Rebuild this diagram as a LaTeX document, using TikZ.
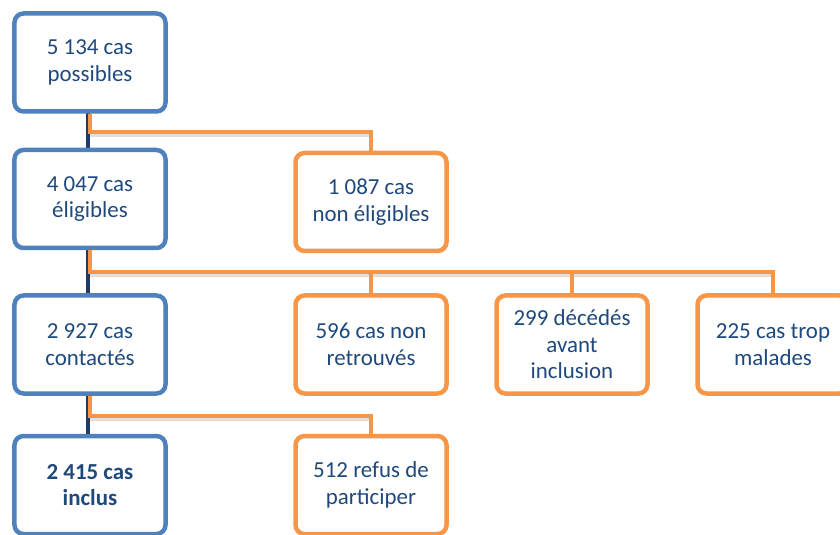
\documentclass[tikz,border=0pt]{standalone}
\usepackage{fontspec}
\setmainfont{Carlito}
\definecolor{boxblue}{HTML}{4F81BD}
\definecolor{boxorange}{HTML}{F79646}
\definecolor{textblue}{HTML}{1F497D}
\definecolor{trunkblue}{HTML}{1F3A66}
\tikzset{
  casebox/.style={draw, rounded corners=9bp, line width=4.5bp, fill=white,
    minimum width=151bp, minimum height=98bp, align=center,
    text=textblue, font=\fontsize{23}{26.5}\selectfont},
  bluebox/.style={casebox, draw=boxblue},
  orangebox/.style={casebox, draw=boxorange},
  trunk/.style={draw=trunkblue, line width=4bp},
  branch/.style={draw=boxorange, line width=4.5bp},
  branchshadow/.style={draw=black!50, line width=4bp, opacity=0.25}
}
\begin{document}
\begin{tikzpicture}
        [x=1bp,y=-1bp]
        \useasboundingbox (0,0) rectangle (840,535);

        \draw[trunk] (88,110) -- (88,150);
        \draw[trunk] (88,248) -- (88,295);
        \draw[trunk] (88,394) -- (88,435);

        \node[bluebox] (possibles) at (90,62.5) {5 134 cas\\possibles};
        \node[bluebox] (eligibles) at (90,199) {4 047 cas\\éligibles};
        \node[orangebox] (noneligibles) at (371,202) {1 087 cas\\non éligibles};

        \node[bluebox] (contactes) at (90,344.5) {2 927 cas\\contactés};
        \node[orangebox] (nonretrouves) at (371,344.5) {596 cas non\\retrouvés};
        \node[orangebox] (decedes) at (572,344.5) {299 décédés\\avant\\inclusion};
        \node[orangebox] (malades) at (773,344.5) {225 cas trop\\malades};

        \node[bluebox, font=\fontsize{23}{26.5}\selectfont\bfseries] (inclus) at (90,485) {2 415 cas\\inclus};
        \node[orangebox] (refus) at (371,485) {512 refus de\\participer};

        \coordinate (split1) at (90,132);
        \coordinate (split2) at (90,272);
        \coordinate (split3) at (90,416);

        \draw[branchshadow] ([yshift=-3bp]split1) -- ([yshift=-3bp]split1 -| noneligibles.north);
        \draw[branchshadow] ([yshift=-3bp]split2) -- ([yshift=-3bp]split2 -| malades.north);
        \draw[branchshadow] ([yshift=-3bp]split3) -- ([yshift=-3bp]split3 -| refus.north);

        \draw[branch] (possibles.south) -- (split1) -| (noneligibles.north);
        \draw[branch] (eligibles.south) -- (split2) -| (malades.north);
        \draw[branch] (split2 -| nonretrouves.north) -- (nonretrouves.north);
        \draw[branch] (split2 -| decedes.north) -- (decedes.north);
        \draw[branch] (contactes.south) -- (split3) -| (refus.north);
      \end{tikzpicture}
\end{document}
